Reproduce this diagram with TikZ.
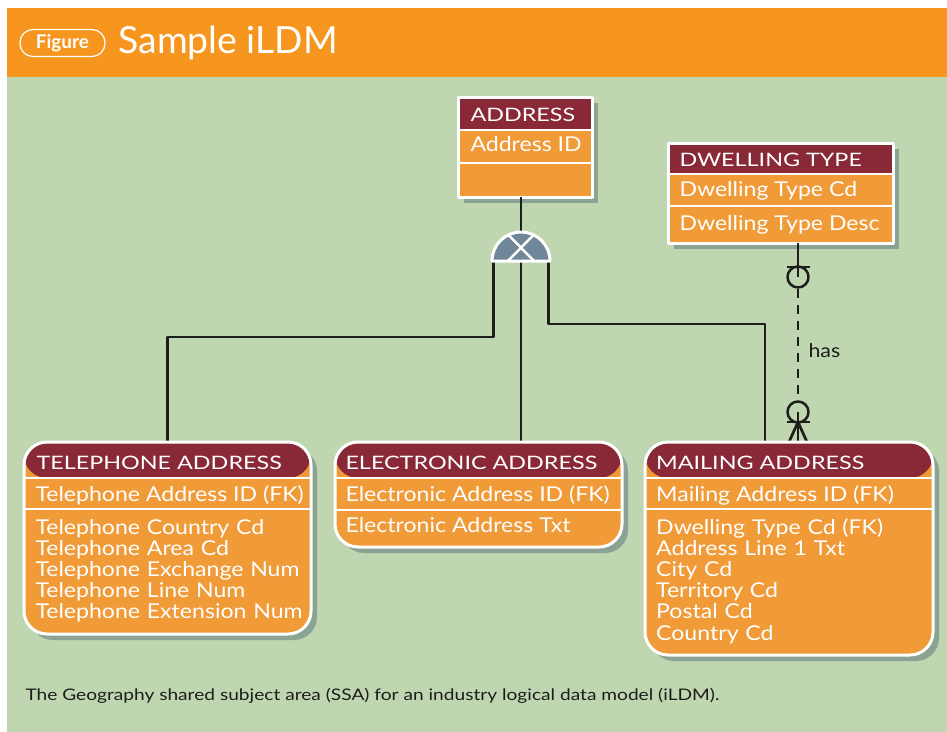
\documentclass[tikz,border=0pt]{standalone}
\usepackage{fontspec}
\setmainfont{Lato}
\newfontfamily\headfont{Lato}[FakeStretch=1.26]
\newfontfamily\rowfont{Lato}[FakeStretch=1.13]
\newfontfamily\capfont{Lato}[FakeStretch=1.2]
\usetikzlibrary{shadows}
\definecolor{bandorange}{RGB}{247,150,30}
\definecolor{panegreen}{RGB}{192,214,176}
\definecolor{entmaroon}{RGB}{137,41,55}
\definecolor{entorange}{RGB}{240,154,56}
\definecolor{shadowcol}{RGB}{105,130,130}
\definecolor{discblue}{RGB}{111,135,153}
\definecolor{inkcol}{RGB}{29,29,27}
\begin{document}
\begin{tikzpicture}[>=latex,line join=bevel,
  entity/.style={draw=white, line width=3bp, fill=entorange, inner sep=0pt, outer sep=0pt,
    drop shadow={shadow xshift=6bp, shadow yshift=-6bp, fill=shadowcol, opacity=.6},
    path picture={\fill[entmaroon] (path picture bounding box.north west) rectangle ([yshift=-#1]path picture bounding box.north east);}},
  dependent/.style={entity=#1, rounded corners=23bp},
  sep/.style={draw=white, line width=2.5bp},
  headtxt/.style={anchor=base west, inner sep=0pt, text=white, font=\headfont\fontsize{18.6}{20}\selectfont},
  rowtxt/.style={anchor=base west, inner sep=0pt, text=white, font=\rowfont\fontsize{20.5}{21.3}\selectfont},
  bodytxt/.style={rowtxt, text width=270bp, align=left},
  link/.style={draw=inkcol, line width=2.7bp},
  discnode/.style={circle, minimum size=58bp, inner sep=0pt, outer sep=0pt},
  optcirc/.style={circle, draw=inkcol, line width=2.5bp, minimum size=21bp, inner sep=0pt}]
  \pgfsetlinewidth{1bp}
%%
  \fill[white] (0bp,0bp) rectangle (947bp,-732bp);
  \fill[panegreen] (7bp,-77bp) rectangle (947bp,-732bp);
  \fill[bandorange] (7bp,-8bp) rectangle (947bp,-77bp);
  \useasboundingbox (0bp,0bp) rectangle (947bp,-732bp);
  % Title
  \node[draw=white, line width=1.2bp, rounded corners=13bp, minimum width=85bp, minimum height=27bp, inner sep=0pt,
    text=white, font=\bfseries\fontsize{19}{20}\selectfont] (figtag) at (62.5bp,-43bp) {Figure};
  \node[anchor=base west, inner sep=0pt, text=white, font=\fontsize{37.5}{40}\selectfont] (title) at (118bp,-53bp) {Sample iLDM};
  % Node: disc
  \node[discnode] (disc) at (521bp,-261bp) {};
  % Node: dwellend, mailend
  \node[optcirc] (dwellend) at (798bp,-277bp) {};
  \node[optcirc] (mailend) at (798bp,-412bp) {};
  % Node: ADDRESS
  \node[entity=33bp, minimum width=134bp, minimum height=100bp] (address) at (525bp,-147bp) {};
  \draw[sep] ([yshift=-33bp]address.north west) -- ([yshift=-33bp]address.north east);
  \draw[sep] ([yshift=-66bp]address.north west) -- ([yshift=-66bp]address.north east);
  \node[headtxt] (addresshead) at (470bp,-121.7bp) {ADDRESS};
  \node[rowtxt] (addressid) at (470bp,-151.7bp) {Address ID};
  % Node: DWELLING TYPE
  \node[entity=31bp, minimum width=225bp, minimum height=100bp] (dwell) at (780.5bp,-193bp) {};
  \draw[sep] ([yshift=-31bp]dwell.north west) -- ([yshift=-31bp]dwell.north east);
  \draw[sep] ([yshift=-63bp]dwell.north west) -- ([yshift=-63bp]dwell.north east);
  \node[headtxt] (dwellhead) at (679bp,-166.7bp) {DWELLING TYPE};
  \node[rowtxt] (dwellcd) at (679bp,-196.7bp) {Dwelling Type Cd};
  \node[rowtxt] (dwelldesc) at (679bp,-230bp) {Dwelling Type Desc};
  % Edge: ADDRESS -- disc
  \draw[link] (disc.north |- address.south) -- (disc.north);
  % Edge: disc -- TELEPHONE ADDRESS
  \draw[link] ([xshift=1.5bp]disc.west) |- (167.5bp,-337bp) -- (167.5bp,-442bp) coordinate (telin);
  % Edge: disc -- ELECTRONIC ADDRESS
  \draw[link] (disc.center) -- (521bp,-442bp) coordinate (elecin);
  % Edge: disc -- MAILING ADDRESS
  \draw[link] ([xshift=-1.5bp]disc.east) |- (765bp,-324bp) -- (765bp,-442bp) coordinate (mailin);
  % Edge: DWELLING TYPE -- MAILING ADDRESS
  \draw[link] (dwellend.center |- dwell.south) -- (dwellend.center);
  \draw[link] ([shift={(-11.5bp,10bp)}]dwellend.center) -- ([shift={(11.5bp,10bp)}]dwellend.center);
  \draw[link, dash pattern=on 9bp off 7bp] (dwellend.south) -- (mailend.north);
  \draw[link] (mailend.center) -- ++(0bp,-30bp);
  \draw[link] ([shift={(-11.5bp,-10bp)}]mailend.center) -- ([shift={(11.5bp,-10bp)}]mailend.center);
  \draw[link] ([yshift=-10bp]mailend.center) -- ++(-9bp,-20bp);
  \draw[link] ([yshift=-10bp]mailend.center) -- ++(9bp,-20bp);
  \node[anchor=base west, inner sep=0pt, text=inkcol, font=\rowfont\fontsize{19}{20}\selectfont] (has) at (808bp,-357.5bp) {has};
  % Node: disc shape
\begin{scope}
  \filldraw[fill=discblue, draw=white, line width=3bp] (disc.west) arc[start angle=180, end angle=0, radius=29bp] -- cycle;
  \draw[white, line width=2.5bp] ([shift={(-12.5bp,26bp)}]disc.center) -- ([shift={(13bp,0bp)}]disc.center);
  \draw[white, line width=2.5bp] ([shift={(12.5bp,26bp)}]disc.center) -- ([shift={(-13bp,0bp)}]disc.center);
\end{scope}
  % Node: TELEPHONE ADDRESS
  \node[dependent=36bp, minimum width=287bp, minimum height=192bp] (tel) at (167.5bp,-538bp) {};
  \draw[sep] ([yshift=-36bp]tel.north west) -- ([yshift=-36bp]tel.north east);
  \draw[sep] ([yshift=-67bp]tel.north west) -- ([yshift=-67bp]tel.north east);
  \node[headtxt] (telhead) at (36bp,-469.3bp) {TELEPHONE ADDRESS};
  \node[rowtxt] (telid) at (35bp,-501bp) {Telephone Address ID (FK)};
  \node[bodytxt] (telbody) at (35bp,-534bp) {Telephone Country Cd\\Telephone Area Cd\\Telephone Exchange Num\\Telephone Line Num\\Telephone Extension Num};
  % Node: ELECTRONIC ADDRESS
  \node[dependent=36bp, minimum width=287bp, minimum height=105bp] (elec) at (478.5bp,-494.5bp) {};
  \draw[sep] ([yshift=-36bp]elec.north west) -- ([yshift=-36bp]elec.north east);
  \draw[sep] ([yshift=-68bp]elec.north west) -- ([yshift=-68bp]elec.north east);
  \node[headtxt] (elechead) at (345bp,-469.3bp) {ELECTRONIC ADDRESS};
  \node[rowtxt] (elecid) at (345bp,-501bp) {Electronic Address ID (FK)};
  \node[rowtxt] (electxt) at (345bp,-532.7bp) {Electronic Address Txt};
  % Node: MAILING ADDRESS
  \node[dependent=36bp, minimum width=288bp, minimum height=213bp] (mail) at (789bp,-548.5bp) {};
  \draw[sep] ([yshift=-36bp]mail.north west) -- ([yshift=-36bp]mail.north east);
  \draw[sep] ([yshift=-67bp]mail.north west) -- ([yshift=-67bp]mail.north east);
  \node[headtxt] (mailhead) at (655.7bp,-469.3bp) {MAILING ADDRESS};
  \node[rowtxt] (mailid) at (655.7bp,-501bp) {Mailing Address ID (FK)};
  \node[bodytxt] (mailbody) at (655.7bp,-534bp) {Dwelling Type Cd (FK)\\Address Line 1 Txt\\City Cd\\Territory Cd\\Postal Cd\\Country Cd};
  % Caption
  \node[anchor=base west, inner sep=0pt, text=inkcol, font=\capfont\fontsize{16}{18}\selectfont] (caption) at (25bp,-700.7bp)
    {The Geography shared subject area (SSA) for an industry logical data model (iLDM).};
%
\end{tikzpicture}
\end{document}
